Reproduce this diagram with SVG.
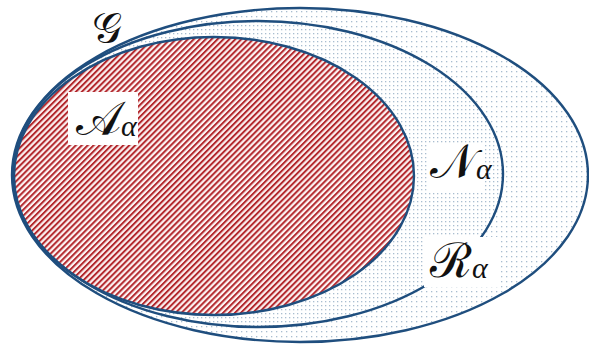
<svg xmlns="http://www.w3.org/2000/svg" width="589" height="347" viewBox="0 0 589 347">
<style>
.edge{fill:none;stroke:#1f4e7e;stroke-width:2.4}
.lbl{font-family:"DejaVu Serif","Liberation Serif",serif;fill:#111}
.big{font-size:48px;font-weight:normal}
.gl{font-size:42px;font-weight:normal}
.sub{font-family:"Liberation Serif",serif;font-style:italic;font-size:30px}
.box{fill:#fff}
</style>
<defs>
<pattern id="dots1" width="5" height="5" patternUnits="userSpaceOnUse">
<rect width="5" height="5" fill="#fff"/>
<rect x="1" y="1" width="1.3" height="1.3" fill="#a9bdd0"/>
</pattern>
<pattern id="dots2" width="4" height="4" patternUnits="userSpaceOnUse">
<rect width="4" height="4" fill="#fff"/>
<rect x="1" y="1" width="1.3" height="1.3" fill="#a9bdd0"/>
</pattern>
<pattern id="hatch" width="4.2" height="4.2" patternUnits="userSpaceOnUse" patternTransform="rotate(45)">
<rect width="4.2" height="4.2" fill="#fdf3f3"/>
<rect width="2" height="4.2" fill="#b3292e"/>
</pattern>
</defs>
<rect width="589" height="347" fill="#fff"/>
<g id="R">
<ellipse cx="300" cy="175" rx="288" ry="167" fill="url(#dots1)"/>
</g>
<g id="N">
<ellipse cx="258" cy="174" rx="245" ry="153" fill="url(#dots2)"/>
</g>
<g id="A">
<ellipse cx="214" cy="176" rx="200" ry="139" fill="url(#hatch)"/>
</g>
<g id="connectors">
<ellipse class="edge" cx="300" cy="175" rx="288" ry="167"/>
<ellipse class="edge" cx="258" cy="174" rx="245" ry="153"/>
<ellipse class="edge" cx="214" cy="176" rx="200" ry="139"/>
</g>
<g id="G-label">
<text class="lbl gl" x="92" y="42">𝒢</text>
</g>
<g id="A-label">
<rect class="box" x="68" y="92" width="70" height="53"/>
<text class="lbl" x="76" y="135"><tspan class="big">𝒜</tspan><tspan class="sub" dy="1">α</tspan></text>
</g>
<g id="N-label">
<rect class="box" x="427" y="143" width="56" height="48"/>
<text class="lbl" x="430" y="178"><tspan class="big">𝒩</tspan><tspan class="sub" dy="1">α</tspan></text>
</g>
<g id="R-label">
<rect class="box" x="424" y="237" width="77" height="50"/>
<text class="lbl" x="430" y="277"><tspan class="big">ℛ</tspan><tspan class="sub" dy="1">α</tspan></text>
</g>
</svg>
